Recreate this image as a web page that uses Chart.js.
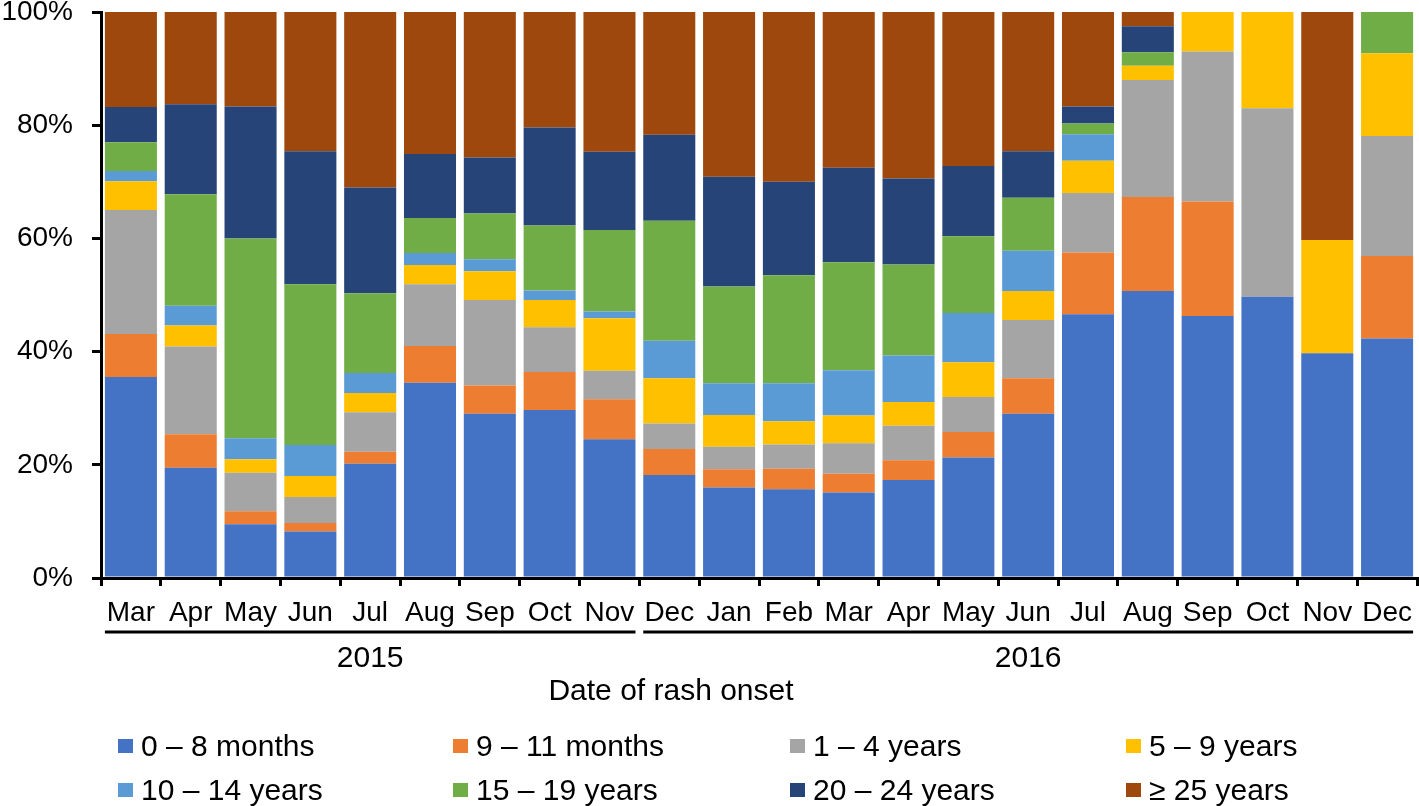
<!DOCTYPE html>
<html>
<head>
<meta charset="utf-8">
<script src="https://cdn.jsdelivr.net/npm/chart.js@4"></script>
<style>
  html, body { margin: 0; padding: 0; background: #fff; }
  canvas { display: block; }
</style>
</head>
<body>
<canvas id="chart" width="1419" height="806"></canvas>
<script>
// month of rash onset, Mar 2015 .. Dec 2016
const months = ['Mar', 'Apr', 'May', 'Jun', 'Jul', 'Aug', 'Sep', 'Oct', 'Nov',
                'Dec', 'Jan', 'Feb', 'Mar', 'Apr', 'May', 'Jun', 'Jul', 'Aug', 'Sep', 'Oct', 'Nov', 'Dec'];
// year groups: label, first and last bar index
const years = [['2015', 0, 8], ['2016', 9, 21]];

const ageGroups = ['0 – 8 months', '9 – 11 months', '1 – 4 years', '5 – 9 years',
                   '10 – 14 years', '15 – 19 years', '20 – 24 years', '≥ 25 years'];

// share of cases (%) per age group
const age0to8m   = [35.5, 19.5, 9.5, 8.2, 20.2, 34.5, 29.0, 29.7, 24.5, 18.2, 16.0, 15.7, 15.1, 17.3, 21.3, 29.0, 46.6, 50.7, 46.3, 49.7, 39.7, 42.3];
const age9to11m  = [7.6, 5.9, 2.3, 1.5, 2.1, 6.5, 5.0, 6.7, 7.1, 4.6, 3.2, 3.6, 3.3, 3.5, 4.5, 6.3, 10.9, 16.6, 20.2, 0, 0, 14.6];
const age1to4y   = [21.9, 15.5, 6.8, 4.6, 7.0, 10.9, 15.1, 7.9, 5.0, 4.5, 4.0, 4.3, 5.4, 6.1, 6.2, 10.3, 10.5, 20.7, 26.5, 33.3, 0, 21.2];
const age5to9y   = [5.1, 3.7, 2.4, 3.7, 3.4, 3.4, 5.1, 4.8, 9.3, 8.0, 5.6, 4.1, 4.9, 4.2, 6.1, 5.1, 5.7, 2.5, 7.0, 17.0, 20.0, 14.6];
const age10to14y = [1.8, 3.5, 3.7, 5.5, 3.5, 2.1, 2.1, 1.7, 1.2, 6.6, 5.6, 6.7, 8.0, 8.2, 8.7, 7.1, 4.7, 0, 0, 0, 0, 0];
const age15to19y = [5.1, 19.7, 35.3, 28.4, 14.1, 6.2, 8.1, 11.5, 14.4, 21.2, 17.1, 19.1, 19.1, 16.1, 13.6, 9.4, 1.9, 2.4, 0, 0, 0, 7.3];
const age20to24y = [6.2, 15.9, 23.3, 23.5, 18.7, 11.3, 9.9, 17.3, 13.8, 15.2, 19.4, 16.5, 16.7, 15.2, 12.4, 8.2, 3.0, 4.6, 0, 0, 0, 0];
const age25plus  = [16.8, 16.3, 16.7, 24.6, 31.0, 25.1, 25.7, 20.4, 24.7, 21.7, 29.1, 30.0, 27.5, 29.4, 27.2, 24.6, 16.7, 2.5, 0, 0, 40.3, 0];

const yTicks = [0, 20, 40, 60, 80, 100];

const colors = ['#4472C4', '#ED7D31', '#A5A5A5', '#FFC000', '#5B9BD5', '#70AD47', '#264478', '#9E480E'];
const series = [age0to8m, age9to11m, age1to4y, age5to9y, age10to14y, age15to19y, age20to24y, age25plus];

const FONT = "'Liberation Sans', Arial, sans-serif";

// year underline + labels, axis title, legend in 4 columns
const extras = {
    id: 'extras',
    afterDraw(chart) {
        const ctx = chart.ctx;
        const bars = chart.getDatasetMeta(0).data;
        ctx.save();
        ctx.fillStyle = '#000';
        ctx.strokeStyle = '#000';
        ctx.textAlign = 'center';
        ctx.textBaseline = 'alphabetic';
        ctx.font = '30px ' + FONT;
        years.forEach(([label, a, b]) => {
            const x0 = bars[a].x - bars[a].width / 2;
            const x1 = bars[b].x + bars[b].width / 2;
            ctx.lineWidth = 3;
            ctx.beginPath();
            ctx.moveTo(x0, 632);
            ctx.lineTo(x1, 632);
            ctx.stroke();
            ctx.fillText(label, (x0 + x1) / 2, 667);
        });
        ctx.fillText('Date of rash onset', (chart.chartArea.left + chart.chartArea.right) / 2 - 88, 700);

        // legend
        const cols = [118, 453, 790, 1126];
        const rows = [756, 800];
        ctx.textAlign = 'left';
        chart.data.datasets.forEach((ds, i) => {
            const x = cols[i % 4];
            const y = rows[Math.floor(i / 4)];
            ctx.fillStyle = ds.backgroundColor;
            ctx.fillRect(x, y - 17, 15, 14);
            ctx.fillStyle = '#000';
            ctx.fillText(ds.label, x + 23, y);
        });
        ctx.restore();
    }
};

const ctx = document.getElementById('chart').getContext('2d');
new Chart(ctx, {
    type: 'bar',
    data: {
        labels: months,
        datasets: series.map((data, i) => ({
            label: ageGroups[i],
            data: data,
            backgroundColor: colors[i],
            borderWidth: 0,
            categoryPercentage: 1,
            barPercentage: 0.87
        }))
    },
    options: {
        responsive: false,
        animation: false,
        layout: { padding: { top: 12, right: 2, left: 0, bottom: 0 } },
        plugins: {
            legend: { display: false },
            tooltip: { enabled: false }
        },
        scales: {
            x: {
                stacked: true,
                afterFit: (scale) => {
                    scale.height = 806 - 578;
                    scale.paddingLeft = 0;
                    scale.paddingRight = 0;
                },
                grid: { drawOnChartArea: false, drawTicks: true, tickLength: 8, lineWidth: 3, color: '#000', offset: true },
                border: { display: true, width: 3, color: '#000' },
                ticks: { color: '#000', font: { family: FONT, size: 28 }, padding: 10, maxRotation: 0, autoSkip: false }
            },
            y: {
                stacked: true,
                min: 0,
                max: 100,
                afterFit: (scale) => {
                    scale.width = 101;
                    scale.paddingTop = 0;
                    scale.paddingBottom = 0;
                },
                afterBuildTicks: (scale) => { scale.ticks = yTicks.map(v => ({ value: v })); },
                grid: { drawOnChartArea: false, drawTicks: true, tickLength: 9, lineWidth: 3, color: '#000' },
                border: { display: true, width: 3, color: '#000' },
                ticks: {
                    color: '#000',
                    font: { family: FONT, size: 28 },
                    padding: 19,
                    callback: (v) => v + '%'
                }
            }
        }
    },
    plugins: [extras]
});
</script>
</body>
</html>
